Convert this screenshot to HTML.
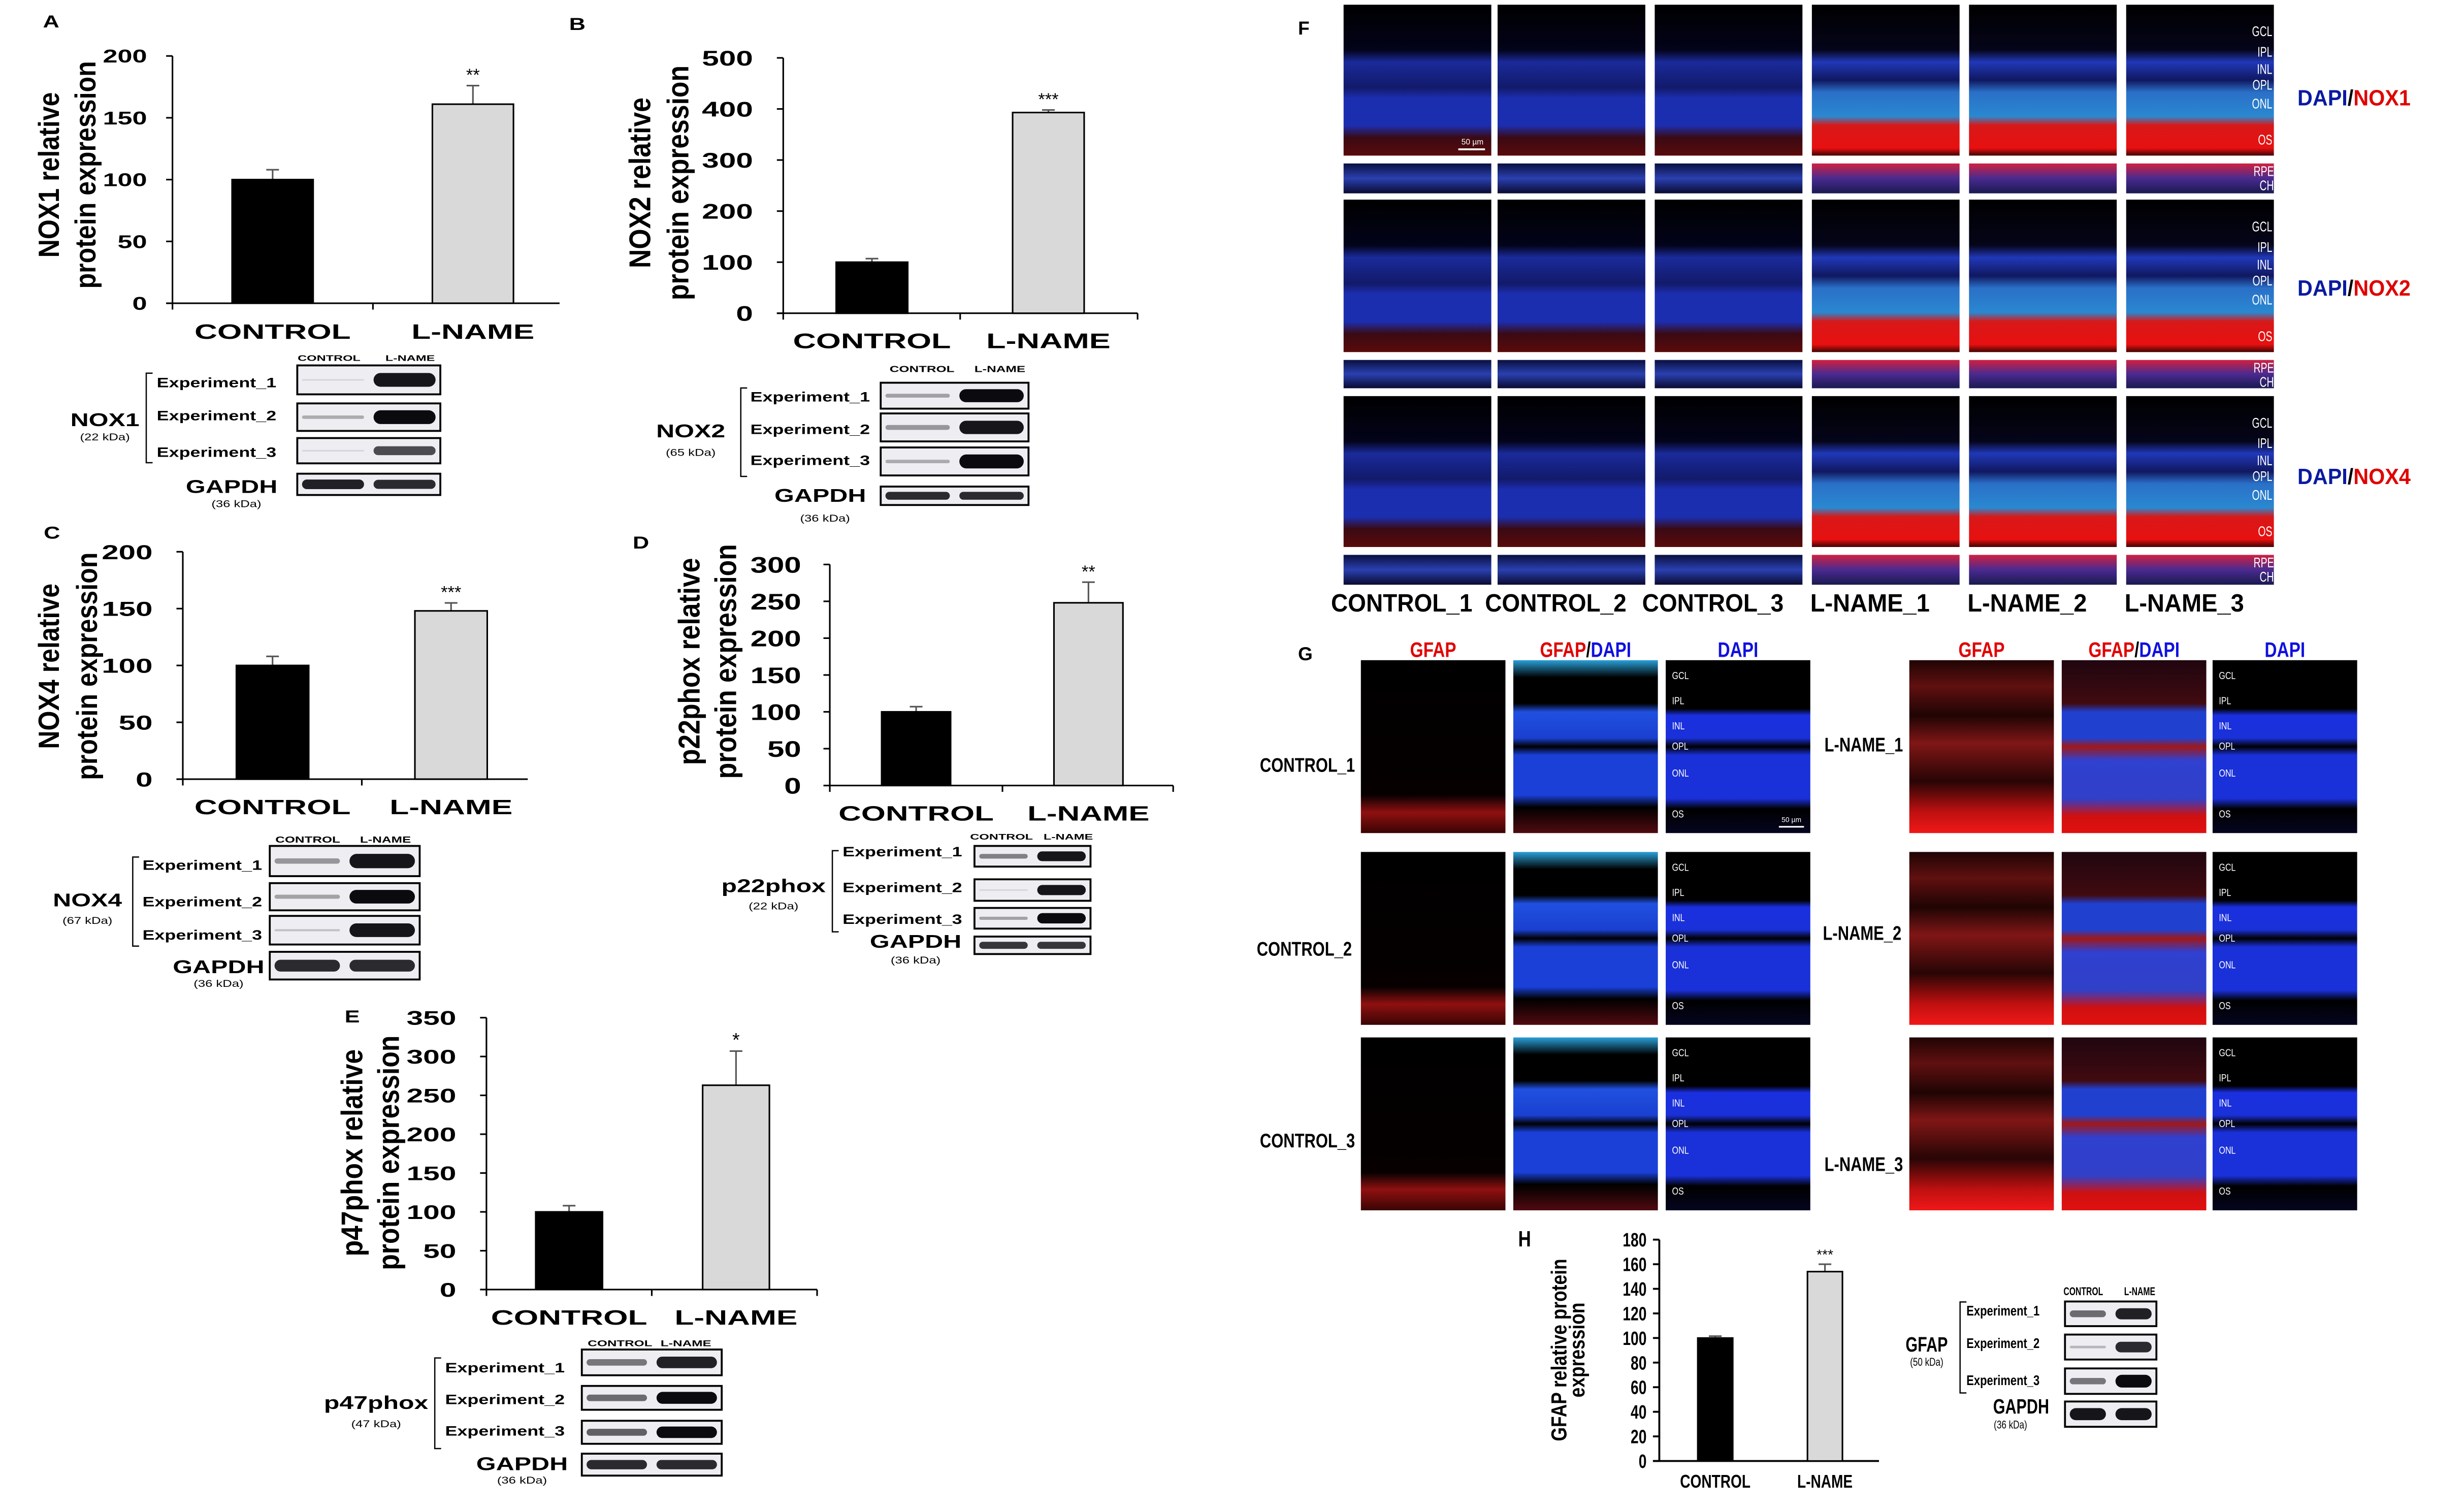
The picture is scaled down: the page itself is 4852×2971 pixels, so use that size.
<!DOCTYPE html>
<html><head><meta charset="utf-8">
<style>
html,body{margin:0;padding:0;background:#fff;}
svg{display:block;}
text{font-family:"Liberation Sans",Arial,sans-serif;}
</style></head>
<body>
<svg id="fig" xmlns="http://www.w3.org/2000/svg" width="4852" height="2971" viewBox="0 0 1550 949" preserveAspectRatio="none">
<defs>
<linearGradient id="gCtrl" x1="0" y1="0" x2="0" y2="1">
<stop offset="0" stop-color="#000"/><stop offset="0.3" stop-color="#03031a"/><stop offset="0.38" stop-color="#1a2a9a"/><stop offset="0.55" stop-color="#121a6a"/><stop offset="0.62" stop-color="#1c2eb0"/><stop offset="0.8" stop-color="#1c2eb0"/><stop offset="0.88" stop-color="#3a0a14"/><stop offset="1" stop-color="#5a0a0a"/></linearGradient>
<linearGradient id="gLn" x1="0" y1="0" x2="0" y2="1">
<stop offset="0" stop-color="#000"/><stop offset="0.3" stop-color="#05051a"/><stop offset="0.38" stop-color="#2038b8"/><stop offset="0.5" stop-color="#101860"/><stop offset="0.58" stop-color="#2a70c8"/><stop offset="0.74" stop-color="#2a88d0"/><stop offset="0.8" stop-color="#d81818"/><stop offset="0.95" stop-color="#e81010"/><stop offset="1" stop-color="#400404"/></linearGradient>
<linearGradient id="gStripC" x1="0" y1="0" x2="0" y2="1"><stop offset="0" stop-color="#0a1040"/><stop offset="0.5" stop-color="#2a40b0"/><stop offset="1" stop-color="#0a0a30"/></linearGradient>
<linearGradient id="gStripL" x1="0" y1="0" x2="0" y2="1"><stop offset="0" stop-color="#d02040"/><stop offset="0.5" stop-color="#4a2a90"/><stop offset="1" stop-color="#1a1a50"/></linearGradient>
<linearGradient id="gGfC" x1="0" y1="0" x2="0" y2="1"><stop offset="0" stop-color="#000"/><stop offset="0.78" stop-color="#060000"/><stop offset="0.88" stop-color="#901010"/><stop offset="1" stop-color="#3a0404"/></linearGradient>
<linearGradient id="gGfL" x1="0" y1="0" x2="0" y2="1"><stop offset="0" stop-color="#200404"/><stop offset="0.15" stop-color="#601010"/><stop offset="0.32" stop-color="#200404"/><stop offset="0.48" stop-color="#801616"/><stop offset="0.7" stop-color="#280505"/><stop offset="0.88" stop-color="#c01010"/><stop offset="1" stop-color="#f01818"/></linearGradient>
<linearGradient id="gMrC" x1="0" y1="0" x2="0" y2="1"><stop offset="0" stop-color="#2aa0d8"/><stop offset="0.1" stop-color="#000"/><stop offset="0.25" stop-color="#000"/><stop offset="0.3" stop-color="#2050e0"/><stop offset="0.45" stop-color="#1a40d0"/><stop offset="0.5" stop-color="#000"/><stop offset="0.55" stop-color="#1a40d8"/><stop offset="0.78" stop-color="#1a40d8"/><stop offset="0.85" stop-color="#000"/><stop offset="1" stop-color="#500a10"/></linearGradient>
<linearGradient id="gMrL" x1="0" y1="0" x2="0" y2="1"><stop offset="0" stop-color="#200610"/><stop offset="0.25" stop-color="#400a10"/><stop offset="0.3" stop-color="#2040d0"/><stop offset="0.45" stop-color="#2040d0"/><stop offset="0.5" stop-color="#a01818"/><stop offset="0.58" stop-color="#3040d0"/><stop offset="0.8" stop-color="#3040c8"/><stop offset="0.9" stop-color="#d01010"/><stop offset="1" stop-color="#e01010"/></linearGradient>
<linearGradient id="gDa" x1="0" y1="0" x2="0" y2="1"><stop offset="0" stop-color="#000"/><stop offset="0.28" stop-color="#000"/><stop offset="0.32" stop-color="#1a30e0"/><stop offset="0.45" stop-color="#1a30d8"/><stop offset="0.5" stop-color="#000"/><stop offset="0.55" stop-color="#1a30d8"/><stop offset="0.8" stop-color="#1a30d8"/><stop offset="0.86" stop-color="#000"/><stop offset="1" stop-color="#050520"/></linearGradient>
</defs>
<g id="root"></g>
</svg>
<script>
// ---------- data ----------
const categories = ["CONTROL", "L-NAME"];
const nox1Values = [100, 161];
const nox1Errors = [8, 15];
const nox1Ticks = [0, 50, 100, 150, 200];
const nox2Values = [100, 393];
const nox2Errors = [7, 5];
const nox2Ticks = [0, 100, 200, 300, 400, 500];
const nox4Values = [100, 148];
const nox4Errors = [8, 7];
const nox4Ticks = [0, 50, 100, 150, 200];
const p22Values = [100, 248];
const p22Errors = [7, 28];
const p22Ticks = [0, 50, 100, 150, 200, 250, 300];
const p47Values = [100, 263];
const p47Errors = [8, 44];
const p47Ticks = [0, 50, 100, 150, 200, 250, 300, 350];
const gfapValues = [100, 154];
const gfapErrors = [1.5, 6];
const gfapTicks = [0, 20, 40, 60, 80, 100, 120, 140, 160, 180];
const significance = ["**", "***", "***", "**", "*", "***"];
// blot band intensities [control, lname] per row (0..1)
const nox1Bands = [[0.05, 0.95], [0.25, 1], [0.05, 0.7], [0.9, 0.85]];
const nox2Bands = [[0.3, 1], [0.35, 0.95], [0.25, 1], [0.85, 0.85]];
const nox4Bands = [[0.35, 0.95], [0.3, 1], [0.15, 0.95], [0.85, 0.85]];
const p22Bands = [[0.45, 0.95], [0.05, 0.95], [0.3, 1], [0.8, 0.8]];
const p47Bands = [[0.5, 0.9], [0.55, 1], [0.6, 1], [0.85, 0.85]];
const gfapBands = [[0.55, 0.9], [0.2, 0.85], [0.5, 1], [0.95, 0.95]];

const NS = "http://www.w3.org/2000/svg";
const root = document.getElementById("root");
function mk(tag, attrs, parent, txt) {
  const e = document.createElementNS(NS, tag);
  for (const k in attrs) e.setAttribute(k, attrs[k]);
  if (txt !== undefined) e.textContent = txt;
  (parent || root).appendChild(e);
  return e;
}
function txt(x, y, s, size, opts, parent) {
  opts = opts || {};
  const e = mk("text", {x: x, y: y, "font-size": size, "text-anchor": opts.anchor || "middle",
    "font-weight": opts.bold === false ? "normal" : "bold", fill: opts.fill || "#000"}, parent, s);
  if (opts.rot) {
    const th = opts.thick || 1;
    e.setAttribute("transform", "translate(" + x + " " + y + ") scale(" + th + " 1) rotate(-90) translate(" + (-x) + " " + (-y) + ")");
  } else if (opts.sx && opts.sx !== 1) {
    e.setAttribute("transform", "translate(" + x + " " + y + ") scale(" + opts.sx + " 1) translate(" + (-x) + " " + (-y) + ")");
  }
  if (opts.len) { e.setAttribute("textLength", opts.len); e.setAttribute("lengthAdjust", "spacingAndGlyphs"); }
  return e;
}

function chart(cfg, values, errors, ticks, sig) {
  const g = mk("g", {});
  
  
  const ymax = ticks[ticks.length - 1];
  const yS = v => cfg.y0 - (cfg.y0 - cfg.yTop) * v / ymax;
  const xS = i => cfg.bx0 + i * cfg.bStep;
  const lw = cfg.lw || 1;
  const ya = mk("line", {x1: cfg.ax, y1: cfg.yTop, x2: cfg.ax, y2: cfg.y0 + (cfg.xMid ? 4 : 0), stroke: "#000", "stroke-width": lw}, g);
  
  
  const xa = mk("line", {x1: cfg.ax - 4, y1: cfg.y0, x2: cfg.xEnd, y2: cfg.y0, stroke: "#000", "stroke-width": lw}, g);
  
  
  if (cfg.xMid) mk("line", {x1: cfg.xMid, y1: cfg.y0, x2: cfg.xMid, y2: cfg.y0 + 4, stroke: "#000"}, g);
  if (cfg.xEndTick) mk("line", {x1: cfg.xEnd, y1: cfg.y0, x2: cfg.xEnd, y2: cfg.y0 + 4, stroke: "#000"}, g);
  ticks.forEach(t => {
    const y = yS(t);
    mk("line", {x1: cfg.ax - 4, y1: y, x2: cfg.ax, y2: y, stroke: "#000", "stroke-width": lw}, g);
    const tl = txt(cfg.ax - cfg.tickGap, y + cfg.tickSize * 0.36, String(t), cfg.tickSize, {anchor: "end", bold: true, sx: cfg.tickSx}, g);
    
    
  });
  values.forEach((v, i) => {
    const x = xS(i);
    const top = yS(v + errors[i]);
    mk("line", {x1: x + cfg.bw / 2, y1: yS(v), x2: x + cfg.bw / 2, y2: top, stroke: "#555", "stroke-width": 1}, g);
    mk("line", {x1: x + cfg.bw / 2 - 4, y1: top, x2: x + cfg.bw / 2 + 4, y2: top, stroke: "#555", "stroke-width": 1}, g);
    const r = mk("rect", {x: x, y: yS(v), width: cfg.bw, height: cfg.y0 - yS(v), fill: i === 0 ? "#000" : "#d9d9d9", stroke: "#000", "stroke-width": 1}, g);
    
    
    const cl = txt(x + cfg.bw / 2, cfg.labY, categories[i], cfg.labSize, {bold: true, sx: cfg.labSx}, g);
    
    
    if (i === 1) {
      const s = txt(x + cfg.bw / 2, top - 3, sig, cfg.sigSize, {bold: false}, g);
      
      
    }
  });
  cfg.titles.forEach((t, k) => {
    const tt = txt(cfg.titleX[k], cfg.titleY, t, cfg.titleSize, {rot: true, thick: cfg.titleThick || 1.15}, g);
    
    
  });
  const pl = txt(cfg.pl[0], cfg.pl[1], cfg.letter, cfg.plSize || 11, {anchor: "start", sx: cfg.plSx || 1.3}, g);
  
  
}

function blot(b, bands) {
  const g = mk("g", {});
  
  
  const sx = b.sx || 1.4;
  txt(b.h[0], b.hy, "CONTROL", b.hs, {sx: b.hsx || 1.5}, g);
  txt(b.h[1], b.hy, "L-NAME", b.hs, {sx: b.hsx || 1.5}, g);
  b.rows.forEach((r, k) => {
    const box = mk("rect", {x: b.x0, y: r[0], width: b.x1 - b.x0, height: r[1] - r[0], fill: "#eeeef2", stroke: "#000", "stroke-width": 1.2}, g);
    
    
    const w = (b.x1 - b.x0) / 2;
    bands[k].forEach((v, j) => {
      const cy = (r[0] + r[1]) / 2;
      const h = Math.max(1, (r[1] - r[0]) * 0.5 * v);
      const c = Math.round(225 - 215 * v);
      mk("rect", {x: b.x0 + j * w + 3, y: cy - h / 2, width: w - 6, height: h, rx: h / 2, fill: "rgb(" + c + "," + c + "," + (c + 5) + ")"}, g);
    });
    if (k < 3) txt(b.ex, b.ey[k], "Experiment_" + (k + 1), b.es, {anchor: "start", sx: b.esx || 1.35}, g);
  });
  mk("path", {d: "M" + (b.br + 4) + " " + b.bt + " H" + b.br + " V" + b.bb + " H" + (b.br + 4), fill: "none", stroke: "#000", "stroke-width": 0.8}, g);
  txt(b.p[0], b.p[1], b.prot, b.ps, {sx: sx}, g);
  txt(b.p[0], b.p[2], b.kda, b.ks, {bold: false, sx: b.ksx || 1.3}, g);
  txt(b.gp[0], b.gp[1], "GAPDH", b.ps, {sx: sx}, g);
  txt(b.gp[2], b.gp[3], "(36 kDa)", b.ks, {bold: false, sx: b.ksx || 1.3}, g);
}

// ---- Charts ----
chart({name: "chart-nox1", letter: "A", pl: [27, 17.3], ax: 108.5, y0: 190.7, yTop: 35.2, xEnd: 352, xMid: 234.6, bx0: 146, bStep: 126, bw: 51,
  tickSize: 11.5, tickSx: 1.45, tickGap: 16, labY: 213, labSize: 13, labSx: 1.53, sigSize: 11, titles: ["NOX1 relative", "protein expression"], titleX: [37, 60], titleY: 110, titleSize: 16},
  nox1Values, nox1Errors, nox1Ticks, significance[0]);
blot({name: "blot-nox1", h: [207, 258], hy: 227, hs: 5, hsx: 1.6, x0: 187, x1: 277, rows: [[229.8, 248], [253.7, 271], [275.5, 291.4], [297.9, 311.3]],
  ex: 98.6, ey: [243.5, 264.3, 287.3], es: 8.5, br: 92, bt: 234.7, bb: 291, prot: "NOX1", kda: "(22 kDa)", p: [66, 268, 277], ps: 11.4, ks: 6.3, gp: [145.7, 310, 148.7, 319]}, nox1Bands);

chart({name: "chart-nox2", letter: "B", pl: [358, 18.8], ax: 492.7, y0: 197, yTop: 36.4, xEnd: 715.6, xMid: 604, xEndTick: true, bx0: 526, bStep: 111, bw: 45,
  tickSize: 13.3, tickSx: 1.45, tickGap: 19, labY: 219, labSize: 13.4, labSx: 1.5, sigSize: 11, titles: ["NOX2 relative", "protein expression"], titleX: [409, 433], titleY: 115, titleSize: 16.5},
  nox2Values, nox2Errors, nox2Ticks, significance[1]);
blot({name: "blot-nox2", h: [580, 629], hy: 234, hs: 5.5, x0: 554, x1: 647, rows: [[240.7, 257], [260, 277.6], [281.4, 299], [306, 317.6]],
  ex: 472, ey: [252.5, 273, 292.5], es: 8.5, br: 466, bt: 244, bb: 299.6, prot: "NOX2", kda: "(65 kDa)", p: [434.5, 275, 286.7], ps: 11.4, ks: 6.3, gp: [516, 315.6, 519, 328]}, nox2Bands);

chart({name: "chart-nox4", letter: "C", pl: [27.5, 338.8], ax: 115, y0: 490, yTop: 347, xEnd: 332, xMid: 227.6, bx0: 148.7, bStep: 112.3, bw: 45.5,
  tickSize: 12.8, tickSx: 1.5, tickGap: 19, labY: 512, labSize: 13, labSx: 1.53, sigSize: 11, titles: ["NOX4 relative", "protein expression"], titleX: [37, 61], titleY: 419, titleSize: 16},
  nox4Values, nox4Errors, nox4Ticks, significance[2]);
blot({name: "blot-nox4", h: [193.6, 242.5], hy: 530, hs: 5.5, x0: 169.7, x1: 264, rows: [[532, 551], [555.4, 572.5], [576, 594], [598.6, 616]],
  ex: 89.6, ey: [547, 570, 591], es: 8.5, br: 83.5, bt: 539, bb: 595, prot: "NOX4", kda: "(67 kDa)", p: [55, 570, 581], ps: 11.4, ks: 6.3, gp: [137.5, 612, 137.5, 620.6]}, nox4Bands);

chart({name: "chart-p22phox", letter: "D", pl: [398, 345], ax: 522, y0: 494, yTop: 355, xEnd: 738, xMid: 630.6, xEndTick: true, bx0: 554.6, bStep: 108.4, bw: 43.4,
  tickSize: 14.2, tickSx: 1.35, tickGap: 18, labY: 516, labSize: 13, labSx: 1.52, sigSize: 11, titles: ["p22phox relative", "protein expression"], titleX: [440, 463], titleY: 416, titleSize: 16.5},
  p22Values, p22Errors, p22Ticks, significance[3]);
blot({name: "blot-p22phox", h: [630, 672], hy: 528, hs: 5, hsx: 1.6, x0: 613, x1: 686, rows: [[532, 545], [553, 566.5], [571, 584], [589, 600]],
  ex: 530, ey: [538.6, 561, 581], es: 8.5, br: 523.6, bt: 535, bb: 586, prot: "p22phox", kda: "(22 kDa)", p: [486.6, 561, 572], ps: 11.4, ks: 6.3, gp: [576, 596, 576, 606]}, p22Bands);

chart({name: "chart-p47phox", letter: "E", pl: [216.8, 643], ax: 306, y0: 811, yTop: 640, xEnd: 514, xMid: 410, xEndTick: true, bx0: 337, bStep: 105, bw: 42,
  tickSize: 12.5, tickSx: 1.5, tickGap: 19, labY: 833, labSize: 13, labSx: 1.53, sigSize: 12, titles: ["p47phox relative", "protein expression"], titleX: [228, 251], titleY: 725, titleSize: 16.5},
  p47Values, p47Errors, p47Ticks, significance[4]);
blot({name: "blot-p47phox", h: [390, 431.5], hy: 846.6, hs: 5.3, hsx: 1.55, x0: 366, x1: 454, rows: [[848.7, 864.9], [871.6, 886.6], [893.5, 908], [914.2, 928]],
  ex: 280, ey: [863, 883, 902.8], es: 8.5, br: 273.5, bt: 854, bb: 911, prot: "p47phox", kda: "(47 kDa)", p: [236.6, 886, 897.6], ps: 11.4, ks: 6.3, gp: [328.4, 924.6, 328.4, 933]}, p47Bands);

chart({name: "chart-gfap", letter: "H", pl: [955, 783.9], plSize: 14, plSx: 0.8, ax: 1043.8, y0: 918.8, yTop: 779.6, xEnd: 1182, bx0: 1068, bStep: 69, bw: 22,
  tickSize: 12, tickSx: 0.75, tickGap: 8, labY: 935.6, labSize: 11.5, labSx: 0.78, sigSize: 9, lw: 1.2, titles: ["GFAP relative protein", "expression"], titleX: [985.3, 996.7], titleY: 849, titleSize: 11.3, titleThick: 1.2},
  gfapValues, gfapErrors, gfapTicks, significance[5]);
blot({name: "blot-gfap", h: [1310.5, 1346], hy: 814.6, hs: 7, hsx: 0.72, x0: 1299, x1: 1356.5, rows: [[818.5, 834], [839.3, 855], [860.6, 876.6], [881.4, 897.3]],
  ex: 1237, ey: [827.3, 847.7, 871], es: 9, esx: 0.78, br: 1233, bt: 818.8, bb: 876, prot: "GFAP", kda: "(50 kDa)", p: [1212, 850, 859], ps: 13, sx: 0.75, ks: 7, ksx: 0.78, gp: [1271.4, 889, 1264.7, 898.3]}, gfapBands);

// ---- Panels F and G (measured on a 1568-wide grid, scaled into this 1550 viewBox) ----
const micro = mk("g", {transform: "scale(0.98853)"});



const fCols = [855, 953, 1053, 1153, 1253, 1353];
const fColLabels = ["CONTROL_1", "CONTROL_2", "CONTROL_3", "L-NAME_1", "L-NAME_2", "L-NAME_3"];
const fRows = [[3, 99, 104, 123], [127, 224, 229, 247], [252, 348, 353, 372]];
const fMarkers = ["NOX1", "NOX2", "NOX4"];
const fLayers = [["GCL", 20], ["IPL", 33], ["INL", 44], ["OPL", 54], ["ONL", 66], ["OS", 89]];
txt(826, 22, "F", 12, {anchor: "start"}, micro);
fRows.forEach((r, ri) => {
  fCols.forEach((x, ci) => {
    const big = mk("rect", {x: x, y: r[0], width: 94, height: r[1] - r[0], fill: ci < 3 ? "url(#gCtrl)" : "url(#gLn)"}, micro);
    
    
    const sm = mk("rect", {x: x, y: r[2], width: 94, height: r[3] - r[2], fill: ci < 3 ? "url(#gStripC)" : "url(#gStripL)"}, micro);
    
    
  });
  fLayers.forEach(l => txt(1446, r[0] + l[1] * (r[1] - r[0]) / 96, l[0], 9, {anchor: "end", bold: false, fill: "#fff", sx: 0.7}, micro));
  txt(1447, r[2] + 8, "RPE", 9, {anchor: "end", bold: false, fill: "#fff", sx: 0.7}, micro);
  txt(1447, r[2] + 17, "CH", 9, {anchor: "end", bold: false, fill: "#fff", sx: 0.7}, micro);
  const lb = mk("text", {x: 1462, y: [67, 188, 308][ri], "font-size": 14, "font-weight": "bold", fill: "#0a1aa0", textLength: 72, lengthAdjust: "spacingAndGlyphs"}, micro);
  
  
  mk("tspan", {}, lb, "DAPI");
  mk("tspan", {fill: "#000"}, lb, "/");
  mk("tspan", {fill: "#e00000"}, lb, fMarkers[ri]);
});
fColLabels.forEach((s, ci) => {
  const t = txt(fCols[ci] + 37, 389, s, 16, {len: s.length > 8 ? 90 : 76}, micro);
  
  
});
mk("line", {x1: 928, y1: 95, x2: 945, y2: 95, stroke: "#fff", "stroke-width": 1.2}, micro);
txt(937, 92, "50 µm", 5, {bold: false, fill: "#fff"}, micro);

txt(826, 420, "G", 12, {anchor: "start"}, micro);
const gColsL = [866, 963, 1060];
const gColsR = [1215, 1312, 1408];
const gRows = [420, 542, 660];
[gColsL, gColsR].forEach((cols, side) => {
  cols.forEach((x, ci) => {
    const cx = x + 46;
    if (ci === 0) txt(cx, 418, "GFAP", 13.5, {fill: "#e00000", sx: 0.8}, micro);
    else if (ci === 2) txt(cx, 418, "DAPI", 13.5, {fill: "#1010e0", sx: 0.8}, micro);
    else {
      const t = mk("text", {x: cx, y: 418, "font-size": 13.5, "font-weight": "bold", "text-anchor": "middle", fill: "#e00000", textLength: 58, lengthAdjust: "spacingAndGlyphs"}, micro);
      mk("tspan", {}, t, "GFAP"); mk("tspan", {fill: "#000"}, t, "/"); mk("tspan", {fill: "#1010e0"}, t, "DAPI");
    }
    gRows.forEach((y, ri) => {
      let f;
      if (ci === 0) f = side === 0 ? "url(#gGfC)" : "url(#gGfL)";
      else if (ci === 1) f = side === 0 ? "url(#gMrC)" : "url(#gMrL)";
      else f = "url(#gDa)";
      const r = mk("rect", {x: x, y: y, width: 92, height: 110, fill: f}, micro);
      
      
      if (ci === 2) {
        [["GCL", 12], ["IPL", 28], ["INL", 44], ["OPL", 57], ["ONL", 74], ["OS", 100]].forEach(l =>
          txt(x + 4, y + l[1], l[0], 6.5, {anchor: "start", bold: false, fill: "#fff", sx: 0.8}, micro));
      }
    });
  });
});
[["CONTROL_1", 832, 491], ["CONTROL_2", 830, 608], ["CONTROL_3", 832, 730]].forEach(a => txt(a[1], a[2], a[0], 12.5, {sx: 0.8}, micro));
[["L-NAME_1", 1186, 478], ["L-NAME_2", 1185, 598], ["L-NAME_3", 1186, 745]].forEach(a => txt(a[1], a[2], a[0], 12.5, {sx: 0.8}, micro));
mk("line", {x1: 1132, y1: 526, x2: 1148, y2: 526, stroke: "#fff", "stroke-width": 1}, micro);
txt(1140, 523, "50 µm", 4.5, {bold: false, fill: "#fff"}, micro);
</script>
</body></html>
